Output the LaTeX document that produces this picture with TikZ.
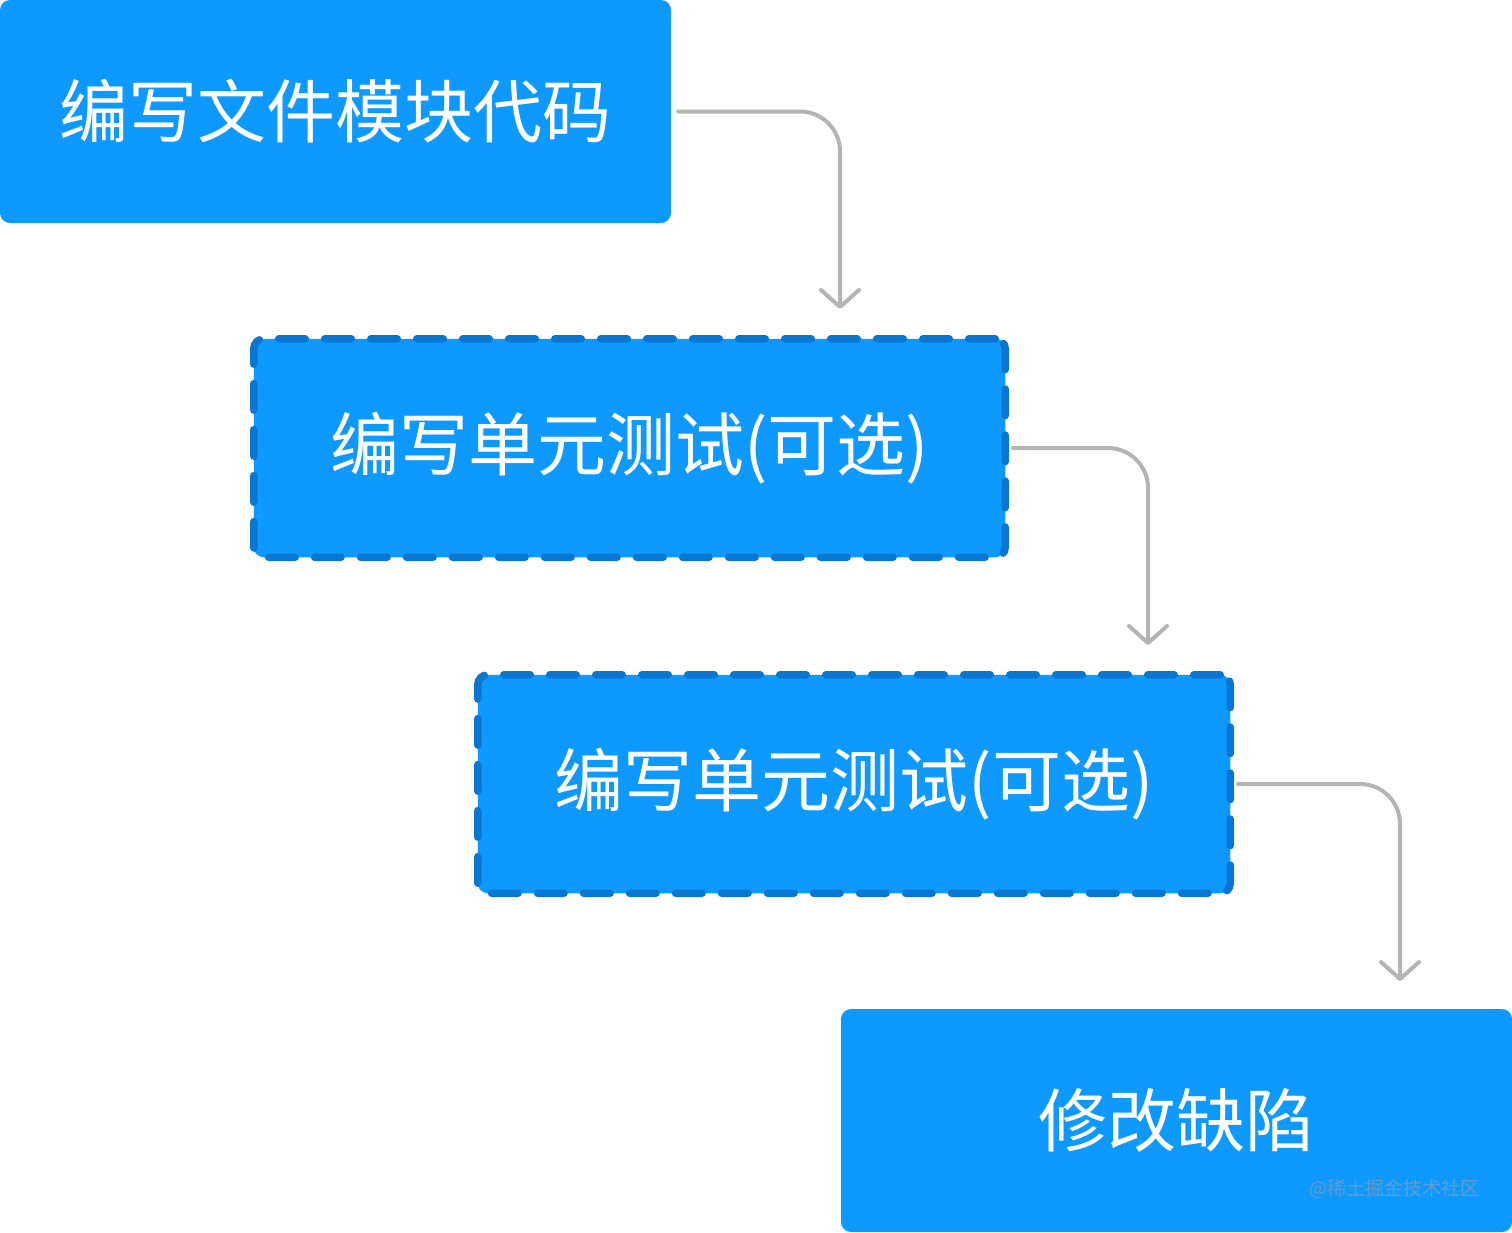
\documentclass[tikz,border=0pt]{standalone}
\usepackage{fontspec}
\newfontfamily\cjk{Noto Sans CJK SC}
\usetikzlibrary{arrows.meta}
\definecolor{boxblue}{RGB}{14,153,255}
\definecolor{dashblue}{RGB}{9,118,208}
\definecolor{arrgray}{RGB}{180,180,180}
\definecolor{wmark}{RGB}{100,155,205}
\begin{document}
\begin{tikzpicture}[x=1pt,y=1pt,
  solidbox/.style={fill=boxblue, draw=none, rounded corners=10pt, inner sep=0pt,
    text=white, font=\cjk\fontsize{69}{80}\selectfont},
  dashbox/.style={fill=boxblue, draw=dashblue, line width=7.5pt, rounded corners=10pt,
    dash pattern=on 26.5pt off 19.5pt, line cap=round, inner sep=0pt,
    text=white, font=\cjk\fontsize{69}{80}\selectfont},
  flow/.style={draw=arrgray, line width=4pt, line cap=round, rounded corners=40pt,
    -{Straight Barb[length=17pt,width=38pt,line width=4pt,round]}}
]
\useasboundingbox (0,0) rectangle (1512,-1232);
\node[solidbox, minimum width=671pt, minimum height=223pt] (b1) at (335.5,-111.5) {编写文件模块代码};
\node[dashbox, minimum width=751.5pt, minimum height=218.5pt] (b2) at (629.5,-448) {编写单元测试(可选)};
\node[dashbox, minimum width=752.5pt, minimum height=218.5pt] (b3) at (854,-784) {编写单元测试(可选)};
\node[solidbox, minimum width=671pt, minimum height=223pt] (b4) at (1176.5,-1120.5) {修改缺陷};
\node[anchor=east, inner sep=0pt, text=wmark, font=\cjk\fontsize{19}{22}\selectfont] (wm) at (1480,-1189) {@稀土掘金技术社区};
\coordinate (e1) at (840,-309);
\coordinate (e2) at (1148,-645);
\coordinate (e3) at (1400,-981);
\draw[flow] ([xshift=7pt]b1.east) -| (e1);
\draw[flow] ([xshift=4pt]b2.east) -| (e2);
\draw[flow] ([xshift=4pt]b3.east) -| (e3);
\end{tikzpicture}
\end{document}
